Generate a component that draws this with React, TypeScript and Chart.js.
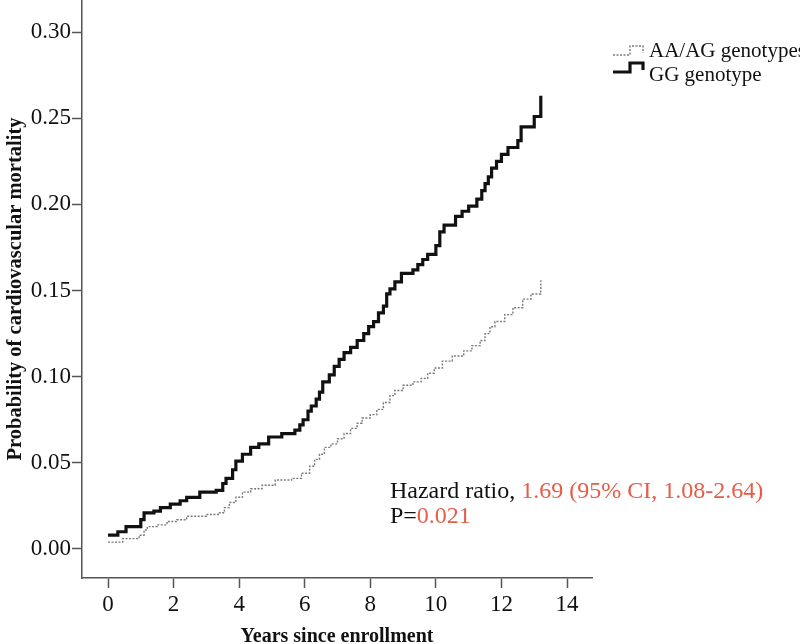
import React, { useEffect, useRef } from "react";
import { Chart, registerables } from "chart.js";

Chart.register(...registerables);

// Step curves (years since enrollment, cumulative probability)
const YEARS_GG = [0.0, 0.3, 0.55, 1.0, 1.1, 1.4, 1.6, 1.9, 2.2, 2.4, 2.8, 3.3, 3.5, 3.6, 3.8, 3.9, 4.1, 4.35, 4.6, 4.9, 5.3, 5.7, 5.85, 5.95, 6.1, 6.2, 6.35, 6.45, 6.55, 6.75, 6.9, 7.05, 7.2, 7.4, 7.6, 7.8, 7.95, 8.1, 8.25, 8.4, 8.5, 8.6, 8.75, 8.95, 9.3, 9.45, 9.6, 9.75, 10.0, 10.12, 10.25, 10.6, 10.8, 11.0, 11.25, 11.4, 11.5, 11.6, 11.7, 11.85, 12.0, 12.2, 12.5, 12.6, 13.0, 13.2];
const PROB_GG = [0.008, 0.010, 0.013, 0.017, 0.021, 0.022, 0.024, 0.026, 0.028, 0.030, 0.033, 0.034, 0.038, 0.041, 0.046, 0.051, 0.055, 0.059, 0.061, 0.065, 0.067, 0.069, 0.072, 0.075, 0.080, 0.083, 0.087, 0.091, 0.097, 0.101, 0.106, 0.110, 0.114, 0.117, 0.121, 0.125, 0.129, 0.132, 0.137, 0.141, 0.148, 0.151, 0.155, 0.160, 0.162, 0.165, 0.168, 0.171, 0.176, 0.184, 0.188, 0.193, 0.196, 0.199, 0.203, 0.208, 0.212, 0.216, 0.221, 0.225, 0.229, 0.233, 0.237, 0.245, 0.251, 0.263];

const YEARS_AA = [0.0, 0.45, 0.95, 1.1, 1.2, 1.5, 1.8, 2.1, 2.4, 3.0, 3.4, 3.55, 3.7, 3.9, 4.1, 4.35, 4.7, 5.1, 5.6, 5.9, 6.15, 6.3, 6.45, 6.6, 6.8, 7.0, 7.2, 7.4, 7.6, 7.75, 8.0, 8.2, 8.4, 8.6, 8.75, 9.0, 9.3, 9.55, 9.75, 9.95, 10.2, 10.5, 10.85, 11.1, 11.35, 11.5, 11.65, 11.8, 12.1, 12.35, 12.65, 12.9, 13.2];
const PROB_AA = [0.004, 0.006, 0.008, 0.011, 0.013, 0.014, 0.016, 0.017, 0.019, 0.020, 0.021, 0.024, 0.027, 0.030, 0.033, 0.035, 0.037, 0.040, 0.041, 0.044, 0.048, 0.052, 0.055, 0.059, 0.061, 0.064, 0.067, 0.070, 0.073, 0.076, 0.078, 0.081, 0.085, 0.089, 0.092, 0.095, 0.097, 0.099, 0.102, 0.105, 0.109, 0.112, 0.115, 0.118, 0.121, 0.125, 0.129, 0.132, 0.136, 0.140, 0.145, 0.148, 0.156];

const X_TICKS = [0, 2, 4, 6, 8, 10, 12, 14];
const Y_TICKS = [0, 0.05, 0.1, 0.15, 0.2, 0.25, 0.3];

const SERIES_LABELS = ["AA/AG genotypes", "GG genotype"];
const X_TITLE = "Years since enrollment";
const Y_TITLE = "Probability of cardiovascular mortality";
const HR_LABEL = "Hazard ratio, ";
const HR_VALUE = "1.69 (95% CI, 1.08-2.64)";
const P_LABEL = "P=";
const P_VALUE = "0.021";

const FONT = "'Liberation Serif', 'Times New Roman', serif";
const AXIS_COLOR = "#555";
const RED = "#e65c46";

const overlayPlugin = {
  id: "overlay",
  afterDraw(chart: any) {
    const ctx = chart.ctx;
    const area = chart.chartArea;
    const xs = chart.scales.x;
    const ys = chart.scales.y;
    const ds = chart.data.datasets;
    ctx.save();

    // Legend
    const lx = area.right + 21;
    const rows = [
      { ds: ds[0], base: 55, text: SERIES_LABELS[0], textBase: 57 },
      { ds: ds[1], base: 72, text: SERIES_LABELS[1], textBase: 81 },
    ];
    rows.forEach((r) => {
      ctx.beginPath();
      ctx.strokeStyle = r.ds.borderColor;
      ctx.lineWidth = r.ds.borderWidth;
      ctx.setLineDash(r.ds.borderDash || []);
      const b = r.base;
      ctx.moveTo(lx, b);
      ctx.lineTo(lx + 17, b);
      ctx.lineTo(lx + 17, b - 9);
      ctx.lineTo(lx + 30, b - 9);
      ctx.lineTo(lx + 30, b - 2);
      ctx.stroke();
      ctx.setLineDash([]);
      ctx.fillStyle = "#111";
      ctx.font = `21px ${FONT}`;
      ctx.textBaseline = "alphabetic";
      ctx.textAlign = "left";
      ctx.fillText(r.text, lx + 36, r.textBase);
    });

    // Annotation
    ctx.font = `24px ${FONT}`;
    const ax = xs.getPixelForValue(8.6);
    const y1 = ys.getPixelForValue(0.0296);
    const y2 = ys.getPixelForValue(0.0151);
    ctx.fillStyle = "#111";
    ctx.fillText(HR_LABEL, ax, y1);
    const w1 = ctx.measureText(HR_LABEL).width;
    ctx.fillStyle = RED;
    ctx.fillText(HR_VALUE, ax + w1, y1);
    ctx.fillStyle = "#111";
    ctx.fillText(P_LABEL, ax, y2);
    const w2 = ctx.measureText(P_LABEL).width;
    ctx.fillStyle = RED;
    ctx.fillText(P_VALUE, ax + w2, y2);

    ctx.restore();
  },
};

export default function App() {
  const ref = useRef<HTMLCanvasElement | null>(null);

  useEffect(() => {
    if (!ref.current) return;
    const chart = new Chart(ref.current, {
      type: "line",
      data: {
        datasets: [
          {
            label: SERIES_LABELS[0],
            data: YEARS_AA.map((t, i) => ({ x: t, y: PROB_AA[i] })),
            borderColor: "#7a7a7a",
            borderWidth: 1.4,
            borderDash: [2, 1.5],
            stepped: true,
            pointRadius: 0,
            fill: false,
          },
          {
            label: SERIES_LABELS[1],
            data: YEARS_GG.map((t, i) => ({ x: t, y: PROB_GG[i] })),
            borderColor: "#111",
            borderWidth: 3.2,
            stepped: true,
            pointRadius: 0,
            fill: false,
          },
        ],
      },
      options: {
        responsive: false,
        animation: false,
        devicePixelRatio: 1,
        layout: { padding: { left: 0, top: 0, right: 208, bottom: 0 } },
        plugins: {
          legend: { display: false },
          tooltip: { enabled: false },
        },
        scales: {
          x: {
            type: "linear",
            min: -0.793,
            max: 14.762,
            afterBuildTicks: (scale: any) => {
              scale.ticks = X_TICKS.map((v) => ({ value: v }));
            },
            afterFit: (scale: any) => {
              scale.height = 66;
              scale.paddingLeft = 0;
              scale.paddingRight = 0;
            },
            ticks: {
              font: { family: FONT, size: 23 },
              color: "#111",
              padding: 3,
              maxRotation: 0,
              callback: (v: any) => String(v),
            },
            grid: {
              drawOnChartArea: false,
              drawTicks: true,
              tickLength: 10,
              tickColor: AXIS_COLOR,
              tickWidth: 1.5,
            },
            border: { display: true, color: AXIS_COLOR, width: 1.5 },
            title: {
              display: true,
              text: X_TITLE,
              font: { family: FONT, size: 20, weight: "bold", lineHeight: 1 },
              color: "#111",
              padding: { top: 0, bottom: -3 },
            },
          },
          y: {
            type: "linear",
            min: -0.01683,
            max: 0.3186,
            afterBuildTicks: (scale: any) => {
              scale.ticks = Y_TICKS.map((v) => ({ value: v }));
            },
            afterFit: (scale: any) => {
              scale.width = 82;
              scale.paddingTop = 0;
              scale.paddingBottom = 0;
            },
            ticks: {
              font: { family: FONT, size: 23 },
              color: "#111",
              padding: 1,
              callback: (v: any) => Number(v).toFixed(2),
            },
            grid: {
              drawOnChartArea: false,
              drawTicks: true,
              tickLength: 10,
              tickColor: AXIS_COLOR,
              tickWidth: 1.5,
            },
            border: { display: true, color: AXIS_COLOR, width: 1.5 },
            title: {
              display: true,
              text: Y_TITLE,
              font: { family: FONT, size: 20.5, weight: "bold", lineHeight: 1 },
              color: "#111",
              padding: { top: 5, bottom: 0 },
            },
          },
        },
      },
      plugins: [overlayPlugin],
    });
    return () => chart.destroy();
  }, []);

  return (
    <div style={{ position: "fixed", left: 0, top: 0, width: 800, height: 644, background: "#fff" }}>
      <canvas ref={ref} width={800} height={644} style={{ display: "block", width: 800, height: 644 }} />
    </div>
  );
}
